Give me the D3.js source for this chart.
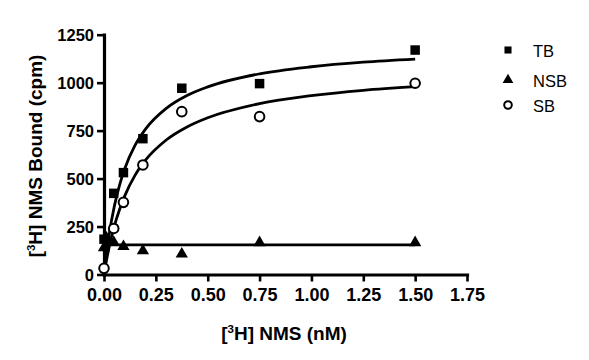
<!DOCTYPE html>
<html><head><meta charset="utf-8">
<script src="https://cdn.jsdelivr.net/npm/d3@7"></script>
<style>body{margin:0;background:#fff}svg{display:block}text{font-family:"Liberation Sans",Arial,sans-serif}</style>
</head><body>
<script>
// Data
const concX = [0.0, 0.046875, 0.09375, 0.1875, 0.375, 0.75, 1.5];
const tbVals = [184, 423, 531, 708, 971, 995, 1170];
const sbVals = [32, 240, 376, 571, 849, 823, 997];
const nsbX = [0.0, 0.012, 0.046875, 0.09375, 0.1875, 0.375, 0.75, 1.5];
const nsbVals = [140, 190, 168, 146, 124, 107, 166, 166];
// fitted curves
const curveX = [0, 0.0125, 0.025, 0.05, 0.075, 0.1, 0.15, 0.2, 0.3, 0.4, 0.5, 0.75, 1.0, 1.25, 1.5];
const tbCurve = [0, 114, 209, 357, 466, 551, 674, 758, 866, 933, 978, 1046, 1083, 1107, 1123];
const sbCurve = [0, 77, 143, 253, 339, 410, 518, 596, 701, 769, 817, 891, 932, 960, 979];
const nsbLineX = [0, 1.5];
const nsbLine = [154, 154];
const xTicks = [0, 0.25, 0.5, 0.75, 1.0, 1.25, 1.5, 1.75];
const yTicks = [0, 250, 500, 750, 1000, 1250];
const legendLabels = ["TB", "NSB", "SB"];

const W = 589, H = 360;
const svg = d3.select("body").append("svg").attr("width", W).attr("height", H);
const x = d3.scaleLinear().domain([0, 1.75]).range([104, 467]);
const y = d3.scaleLinear().domain([0, 1250]).range([274.5, 34.7]);

// axes
const xAxis = svg.append("g").attr("transform", `translate(0,${y(0)})`)
  .call(d3.axisBottom(x).tickValues(xTicks).tickFormat(d3.format(".2f")).tickSize(7).tickSizeOuter(0));
const yAxis = svg.append("g").attr("transform", `translate(${x(0)},0)`)
  .call(d3.axisLeft(y).tickValues(yTicks).tickFormat(d3.format("d")).tickSize(7).tickSizeOuter(0));
[xAxis, yAxis].forEach(g => {
  g.select(".domain").attr("stroke", "#000").attr("stroke-width", 3.2).attr("stroke-linecap", "square");
  g.selectAll(".tick line").attr("stroke", "#000").attr("stroke-width", 2.6);
  g.selectAll(".tick text").attr("fill", "#000").attr("font-weight", "bold")
    .attr("font-family", "Liberation Sans, Arial, sans-serif");
});
xAxis.selectAll(".tick text").attr("font-size", 18).attr("dy", "0.95em").attr("y", 9);
yAxis.selectAll(".tick text").attr("font-size", 16.5).attr("x", -10).attr("dy", "0.34em");

// curves
const line = (xs, ys) => d3.line().x((d, i) => x(xs[i])).y(d => y(d)).curve(d3.curveMonotoneX)(ys);
svg.append("path").attr("d", line(curveX, tbCurve)).attr("fill", "none").attr("stroke", "#000").attr("stroke-width", 2.8);
svg.append("path").attr("d", line(curveX, sbCurve)).attr("fill", "none").attr("stroke", "#000").attr("stroke-width", 2.8);
svg.append("path").attr("d", line(nsbLineX, nsbLine)).attr("fill", "none").attr("stroke", "#000").attr("stroke-width", 2.8);

// markers
const sq = d3.symbol().type(d3.symbolSquare).size(90);
const tri = d3.symbol().type(d3.symbolTriangle).size(65);
svg.append("g").selectAll("path").data(tbVals).join("path")
  .attr("d", sq).attr("transform", (d, i) => `translate(${x(concX[i])},${y(d)})`).attr("fill", "#000");
svg.append("g").selectAll("path").data(nsbVals).join("path")
  .attr("d", tri).attr("transform", (d, i) => `translate(${x(nsbX[i])},${y(d)})`).attr("fill", "#000");
svg.append("g").selectAll("circle").data(sbVals).join("circle")
  .attr("cx", (d, i) => x(concX[i])).attr("cy", d => y(d)).attr("r", 4.8)
  .attr("fill", "#fff").attr("stroke", "#000").attr("stroke-width", 2);

// axis titles
const xt = svg.append("text").attr("x", 284).attr("y", 340).attr("text-anchor", "middle")
  .attr("font-size", 19).attr("font-weight", "bold");
xt.append("tspan").text("[");
xt.append("tspan").text("3").attr("font-size", 11.5).attr("dy", -7.5);
xt.append("tspan").text("H] NMS (nM)").attr("dy", 7.5);
const yt = svg.append("text").attr("transform", "translate(42,156) rotate(-90)").attr("text-anchor", "middle")
  .attr("font-size", 19).attr("font-weight", "bold");
yt.append("tspan").text("[");
yt.append("tspan").text("3").attr("font-size", 11.5).attr("dy", -7.5);
yt.append("tspan").text("H] NMS Bound (cpm)").attr("dy", 7.5);

// legend
const lg = svg.append("g");
const ly = [50, 80, 105];
lg.append("path").attr("d", d3.symbol().type(d3.symbolSquare).size(50)).attr("transform", `translate(508,${ly[0]})`).attr("fill", "#000");
lg.append("path").attr("d", d3.symbol().type(d3.symbolTriangle).size(50)).attr("transform", `translate(508,${ly[1]})`).attr("fill", "#000");
lg.append("circle").attr("cx", 508).attr("cy", ly[2]).attr("r", 3.8).attr("fill", "#fff").attr("stroke", "#000").attr("stroke-width", 2);
legendLabels.forEach((t, i) => {
  lg.append("text").attr("x", 533).attr("y", ly[i] + 6.5).attr("font-size", 16.5).text(t);
});
</script>
</body></html>
